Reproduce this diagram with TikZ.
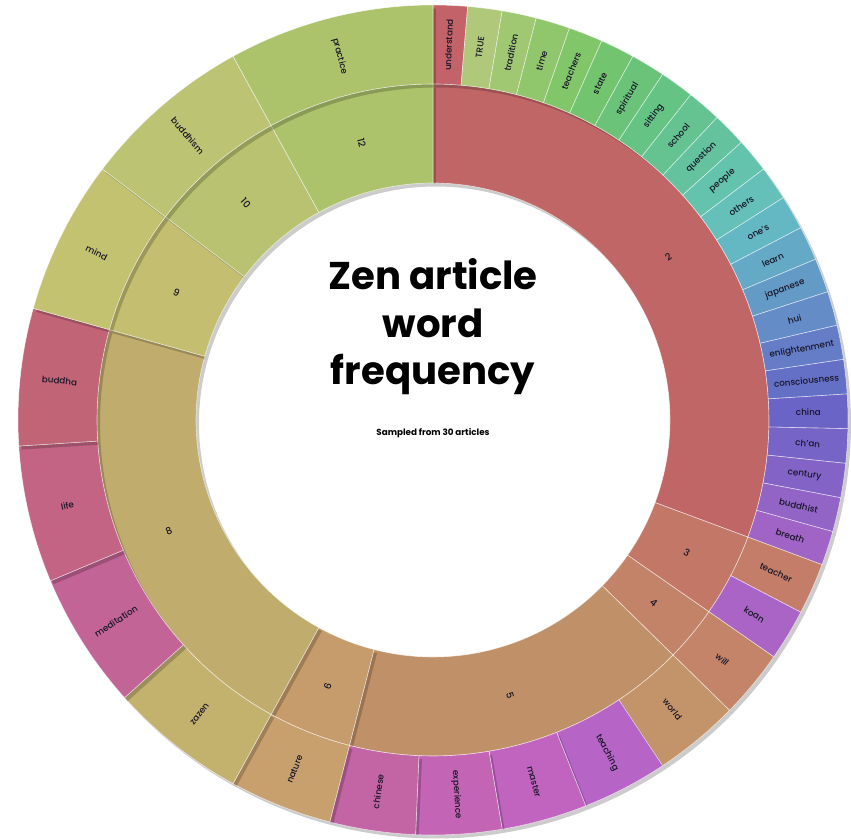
\documentclass[tikz,border=0pt]{standalone}
\usepackage{fontspec}
\setmainfont{Poppins}[FontFace={mb}{n}{Font=* Medium}]
\usepackage{tikz}
\tikzstyle{wordlabel} = [inner sep=0pt, text=labeltext, font=\fontsize{5}{6}\fontseries{mb}\selectfont]
\tikzstyle{countlabel} = [inner sep=0pt, text=labeltext, font=\fontsize{5.5}{6}\fontseries{mb}\selectfont]
\tikzstyle{partshadow} = [fill=black, fill opacity=0.2]
\tikzstyle{partedge} = [draw=white, draw opacity=0.6, line width=0.35pt]
\tikzstyle{titletext} = [align=center, inner sep=0pt, text=black, font=\fontsize{22}{27}\selectfont\bfseries]
\tikzstyle{subtitletext} = [inner sep=0pt, text=black, font=\fontsize{5}{6}\selectfont\bfseries]
\definecolor{labeltext}{RGB}{25,22,40}

\newcommand{\ringpart}[8]{%
  \pgfmathsetmacro\partstart{90-2.4*#3}%
  \pgfmathsetmacro\partend{90-2.4*#4}%
  \pgfmathsetmacro\partmid{(\partstart+\partend)/2}%
  \pgfmathsetmacro\partrad{(#1+#2)/2}%
  \pgfmathsetmacro\partturn{cos(\partmid)<0 ? \partmid+180 : \partmid}%
  \definecolor{partfill}{RGB}{#5}%
  \fill[partshadow, shift={(0.06,-0.07)}] (\partstart:#1) arc[start angle=\partstart, end angle=\partend, radius=#1] -- (\partend:#2) arc[start angle=\partend, end angle=\partstart, radius=#2] -- cycle;
  \filldraw[fill=partfill, partedge] (\partstart:#1) arc[start angle=\partstart, end angle=\partend, radius=#1] -- (\partend:#2) arc[start angle=\partend, end angle=\partstart, radius=#2] -- cycle;
  \node[#8, rotate=\partturn] (#6) at (\partmid:\partrad) {#7};
}

\begin{document}
\begin{tikzpicture}
    \useasboundingbox (-8.66,-8.4) rectangle (8.36,8.4);

    \ringpart{4.74}{6.72}{0}{46}{192,102,102}{c-two}{2}{countlabel}
    \ringpart{4.74}{6.72}{46}{52}{195,120,103}{c-three}{3}{countlabel}
    \ringpart{4.74}{6.72}{52}{56}{194,131,105}{c-four}{4}{countlabel}
    \ringpart{4.74}{6.72}{56}{81}{192,145,105}{c-five}{5}{countlabel}
    \ringpart{4.74}{6.72}{81}{87}{198,156,108}{c-six}{6}{countlabel}
    \ringpart{4.74}{6.72}{87}{119}{192,172,108}{c-eight}{8}{countlabel}
    \ringpart{4.74}{6.72}{119}{128}{195,190,112}{c-nine}{9}{countlabel}
    \ringpart{4.74}{6.72}{128}{138}{184,194,112}{c-ten}{10}{countlabel}
    \ringpart{4.74}{6.72}{138}{150}{172,195,108}{c-twelve}{12}{countlabel}

    \ringpart{6.72}{8.3}{0}{2}{195,98,104}{w-understand}{understand}{wordlabel}
    \ringpart{6.72}{8.3}{2}{4}{175,200,122}{w-true}{TRUE}{wordlabel}
    \ringpart{6.72}{8.3}{4}{6}{160,200,114}{w-tradition}{tradition}{wordlabel}
    \ringpart{6.72}{8.3}{6}{8}{145,199,108}{w-time}{time}{wordlabel}
    \ringpart{6.72}{8.3}{8}{10}{130,198,106}{w-teachers}{teachers}{wordlabel}
    \ringpart{6.72}{8.3}{10}{12}{115,196,110}{w-state}{state}{wordlabel}
    \ringpart{6.72}{8.3}{12}{14}{106,195,120}{w-spiritual}{spiritual}{wordlabel}
    \ringpart{6.72}{8.3}{14}{16}{101,195,132}{w-sitting}{sitting}{wordlabel}
    \ringpart{6.72}{8.3}{16}{18}{100,195,145}{w-school}{school}{wordlabel}
    \ringpart{6.72}{8.3}{18}{20}{100,195,158}{w-question}{question}{wordlabel}
    \ringpart{6.72}{8.3}{20}{22}{100,195,172}{w-people}{people}{wordlabel}
    \ringpart{6.72}{8.3}{22}{24}{100,192,185}{w-others}{others}{wordlabel}
    \ringpart{6.72}{8.3}{24}{26}{100,184,195}{w-ones}{one's}{wordlabel}
    \ringpart{6.72}{8.3}{26}{28}{100,170,198}{w-learn}{learn}{wordlabel}
    \ringpart{6.72}{8.3}{28}{30}{100,155,198}{w-japanese}{japanese}{wordlabel}
    \ringpart{6.72}{8.3}{30}{32}{100,140,198}{w-hui}{hui}{wordlabel}
    \ringpart{6.72}{8.3}{32}{34}{100,125,198}{w-enlightenment}{enlightenment}{wordlabel}
    \ringpart{6.72}{8.3}{34}{36}{100,111,198}{w-consciousness}{consciousness}{wordlabel}
    \ringpart{6.72}{8.3}{36}{38}{106,100,198}{w-china}{china}{wordlabel}
    \ringpart{6.72}{8.3}{38}{40}{118,100,198}{w-chan}{ch'an}{wordlabel}
    \ringpart{6.72}{8.3}{40}{42}{131,100,198}{w-century}{century}{wordlabel}
    \ringpart{6.72}{8.3}{42}{44}{145,100,198}{w-buddhist}{buddhist}{wordlabel}
    \ringpart{6.72}{8.3}{44}{46}{160,100,198}{w-breath}{breath}{wordlabel}
    \ringpart{6.72}{8.3}{46}{49}{195,125,105}{w-teacher}{teacher}{wordlabel}
    \ringpart{6.72}{8.3}{49}{52}{170,100,198}{w-koan}{koan}{wordlabel}
    \ringpart{6.72}{8.3}{52}{56}{195,132,105}{w-will}{will}{wordlabel}
    \ringpart{6.72}{8.3}{56}{61}{195,148,105}{w-world}{world}{wordlabel}
    \ringpart{6.72}{8.3}{61}{66}{182,100,198}{w-teaching}{teaching}{wordlabel}
    \ringpart{6.72}{8.3}{66}{71}{192,100,192}{w-master}{master}{wordlabel}
    \ringpart{6.72}{8.3}{71}{76}{195,100,180}{w-experience}{experience}{wordlabel}
    \ringpart{6.72}{8.3}{76}{81}{195,100,165}{w-chinese}{chinese}{wordlabel}
    \ringpart{6.72}{8.3}{81}{87}{200,160,110}{w-nature}{nature}{wordlabel}
    \ringpart{6.72}{8.3}{87}{95}{195,178,110}{w-zazen}{zazen}{wordlabel}
    \ringpart{6.72}{8.3}{95}{103}{195,100,150}{w-meditation}{meditation}{wordlabel}
    \ringpart{6.72}{8.3}{103}{111}{195,100,132}{w-life}{life}{wordlabel}
    \ringpart{6.72}{8.3}{111}{119}{192,100,118}{w-buddha}{buddha}{wordlabel}
    \ringpart{6.72}{8.3}{119}{128}{195,194,112}{w-mind}{mind}{wordlabel}
    \ringpart{6.72}{8.3}{128}{138}{188,195,115}{w-buddhism}{buddhism}{wordlabel}
    \ringpart{6.72}{8.3}{138}{150}{172,195,108}{w-practice}{practice}{wordlabel}

    \node[titletext] (title) at (0,1.86) {Zen article\\word\\frequency};
    \node[subtitletext] (subtitle) at (0,-0.26) {Sampled from 30 articles};
\end{tikzpicture}
\end{document}
